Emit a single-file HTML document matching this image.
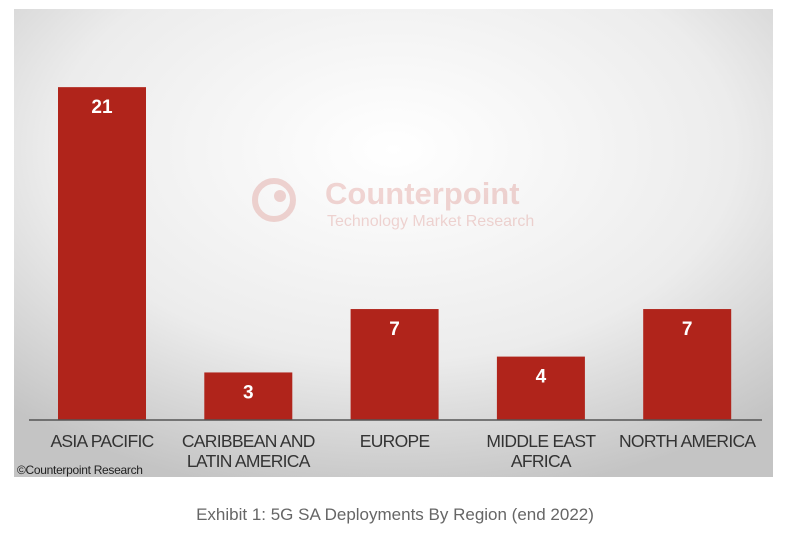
<!DOCTYPE html>
<html><head><meta charset="utf-8"><style>
body{margin:0;width:800px;height:533px;background:#fff;overflow:hidden;font-family:"Liberation Sans",sans-serif}
svg{position:absolute;left:0;top:0}
</style></head><body>
<svg width="800" height="533">
<defs>
<radialGradient id="bg" cx="0.5" cy="0.3" r="0.75">
<stop offset="0" stop-color="#ffffff"/><stop offset="0.6" stop-color="#ececec"/><stop offset="1" stop-color="#c4c4c4"/>
</radialGradient>
</defs>
<rect x="14" y="9" width="759" height="468" fill="url(#bg)"/>
<g opacity="0.18" fill="#c0281c">
<circle cx="274" cy="200" r="19" fill="none" stroke="#c0281c" stroke-width="6"/>
<circle cx="280" cy="196" r="6"/>
<text x="325" y="204" font-size="31" font-weight="bold">Counterpoint</text>
<text x="327" y="226" font-size="16">Technology Market Research</text>
</g>
<g id="bars"></g>
<line x1="29" y1="420" x2="762" y2="420" stroke="#555" stroke-width="1.5"/>
<g id="labels" font-size="17.5" fill="#333" text-anchor="middle" style="letter-spacing:-0.7px"></g>
<text x="17" y="474" font-size="12" fill="#222" style="letter-spacing:-0.3px">©Counterpoint Research</text>
<text x="395" y="520" font-size="17" fill="#666" text-anchor="middle">Exhibit 1: 5G SA Deployments By Region (end 2022)</text>
</svg>
<script>
const categories=[["ASIA PACIFIC"],["CARIBBEAN AND","LATIN AMERICA"],["EUROPE"],["MIDDLE EAST","AFRICA"],["NORTH AMERICA"]];
const values=[21,3,7,4,7];
const ns="http://www.w3.org/2000/svg";
const baseY=420,scale=15.85,x0=102,step=146.3,bw=88;
const y=v=>baseY-v*scale, xc=i=>x0+i*step;
const gb=document.getElementById('bars'),gl=document.getElementById('labels');
values.forEach((v,i)=>{
 const r=document.createElementNS(ns,'rect');
 
 
 r.setAttribute('x',xc(i)-bw/2);r.setAttribute('y',y(v));r.setAttribute('width',bw);r.setAttribute('height',baseY-y(v));r.setAttribute('fill','#b0241b');
 gb.appendChild(r);
 const t=document.createElementNS(ns,'text');
 
 
 t.setAttribute('x',xc(i));t.setAttribute('y',y(v)+26);t.setAttribute('fill','#fff');t.setAttribute('font-size','19');t.setAttribute('font-weight','bold');t.setAttribute('text-anchor','middle');
 t.textContent=v;gb.appendChild(t);
 categories[i].forEach((s,j)=>{
  const l=document.createElementNS(ns,'text');
  
  
  l.setAttribute('x',xc(i));l.setAttribute('y',447+j*20);l.textContent=s;gl.appendChild(l);
 });
});
</script>
</body></html>
